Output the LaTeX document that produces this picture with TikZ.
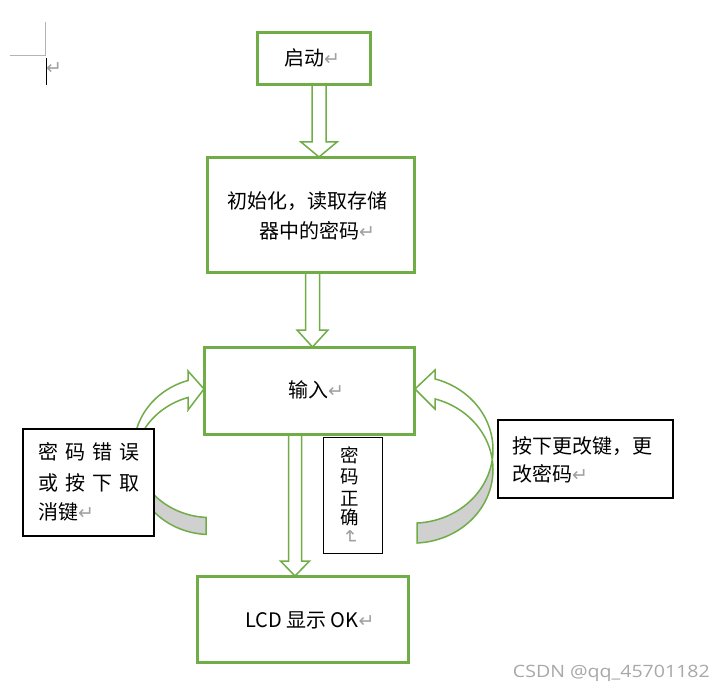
\documentclass[tikz,border=0pt]{standalone}
\usepackage{fontspec}
\usepackage{graphicx}
\setmainfont{Noto Sans CJK SC}
\newfontfamily\dejavu{DejaVu Sans}
\newfontfamily\wmfont{Open Sans}
\usetikzlibrary{calc}
\definecolor{wgreen}{HTML}{70AD47}
\definecolor{bandgray}{HTML}{D0D0D0}
\definecolor{markgray}{HTML}{A0A0A0}
\definecolor{wmgray}{HTML}{A8A8A8}
\definecolor{cornergray}{HTML}{B4B4B4}
\newcommand\parmk{{\color{markgray}\dejavu\fontsize{19}{19}\selectfont ↵}}
\newcommand\blockarrow[5]{%
  \draw[blockarr] ($(#1)+(-#3,0)$) -- ($(#2)+(-#3,-#5)$) -- ($(#2)+(-#4,-#5)$) -- (#2)
    -- ($(#2)+(#4,-#5)$) -- ($(#2)+(#3,-#5)$) -- ($(#1)+(#3,0)$) -- cycle;}
\begin{document}
\begin{tikzpicture}[x=1pt,y=-1pt,
  flowbox/.style={draw=wgreen, line width=2pt, inner sep=0pt},
  blockarr/.style={draw=wgreen, line width=1.5pt, fill=white, line join=miter},
  curvefront/.style={draw=wgreen, line width=1.5pt, fill=white, line join=miter},
  curveback/.style={draw=wgreen, line width=1.5pt, fill=bandgray, line join=miter},
  notebox/.style={draw=black, fill=white, inner sep=0pt},
  txt/.style={inner sep=0pt, anchor=base west, font=\fontsize{20}{24}\selectfont},
  vtxt/.style={inner sep=0pt, anchor=base, font=\fontsize{18.5}{20}\selectfont},
  ]
\useasboundingbox (0,0) rectangle (723,690);
\fill[white] (0,0) rectangle (723,690);

% corner marks
\draw[cornergray, line width=0.8pt] (10,55) -- (45.5,55) -- (45.5,22);
\draw[black, line width=1pt] (46.5,58) -- (46.5,85);
\node[inner sep=0pt] (cornermark) at (54,69) {\parmk};

% flow boxes (positions)
\node[flowbox, minimum width=112, minimum height=51] (start) at (314,58.5) {};
\node[flowbox, minimum width=206, minimum height=114] (init) at (311,215) {};
\node[flowbox, minimum width=209, minimum height=86] (input) at (309.5,391) {};
\node[flowbox, minimum width=210, minimum height=85] (lcd) at (303,619.5) {};

% left curved arrow
\draw[curvefront]
  plot[domain=-106.8:-187, samples=50, variable=\t] ({210+76*cos(\t)},{447.5+70*sin(\t)})
  -- plot[domain=-173:-106.8, samples=50, variable=\t] ({210+76*cos(\t)},{464.5+70*sin(\t)})
  -- (188,410) -- (input.west |- 0,389) -- (188,371) -- cycle;
\draw[curveback]
  plot[domain=-187:-267, samples=50, variable=\t] ({210+76*cos(\t)},{447.5+70*sin(\t)})
  -- plot[domain=-267:-173, samples=50, variable=\t] ({210+76*cos(\t)},{464.5+70*sin(\t)})
  -- cycle;

% right curved arrow
\draw[curvefront]
  plot[domain=-74:7.8, samples=50, variable=\t] ({413+80*cos(\t)},{449.6+73.5*sin(\t)})
  -- plot[domain=-7.8:-74, samples=50, variable=\t] ({413+80*cos(\t)},{469.6+73.5*sin(\t)})
  -- (435,409) -- (input.east |- 0,389) -- (435,370) -- cycle;
\draw[curveback]
  plot[domain=7.8:87.1, samples=50, variable=\t] ({413+80*cos(\t)},{449.6+73.5*sin(\t)})
  -- plot[domain=87.1:-7.8, samples=50, variable=\t] ({413+80*cos(\t)},{469.6+73.5*sin(\t)})
  -- cycle;

% straight block arrows
\coordinate (a1s) at (319,0 |- start.south);
\coordinate (a1t) at (319,0 |- init.north);
\coordinate (a2s) at (312.5,0 |- init.south);
\coordinate (a2t) at (312.5,0 |- input.north);
\coordinate (a3s) at (295,0 |- input.south);
\coordinate (a3t) at (295,0 |- lcd.north);
\blockarrow{a1s}{a1t}{7}{18}{15}
\blockarrow{a2s}{a2t}{7}{15.5}{17}
\blockarrow{a3s}{a3t}{6.5}{14.5}{15}

% redraw flow boxes on top
\draw[wgreen, line width=2pt] (start.north west) rectangle (start.south east);
\draw[wgreen, line width=2pt] (init.north west) rectangle (init.south east);
\draw[wgreen, line width=2pt] (input.north west) rectangle (input.south east);
\draw[wgreen, line width=2pt] (lcd.north west) rectangle (lcd.south east);

% note boxes
\node[notebox, line width=2pt, minimum width=131, minimum height=107] (leftnote) at (88.5,482.5) {};
\node[notebox, line width=0.9pt, minimum width=59, minimum height=116] (midnote) at (352.5,495) {};
\node[notebox, line width=1.3pt, minimum width=175, minimum height=78] (rightnote) at (585.5,459) {};

% texts
\node[txt] (tstart) at (284,66) {启动\parmk};
\node[txt] (tinit1) at (227,208.5) {初始化，读取存储};
\node[txt] (tinit2) at (259,238.5) {器中的密码\parmk};
\node[txt] (tinput) at (288,397.5) {输入\parmk};
\node[txt] (tlcd) at (245,627.5) {LCD 显示 OK\parmk};
\node[txt] (tl1) at (38,459.5) {密\hspace{7pt}码\hspace{7pt}错\hspace{7pt}误};
\node[txt] (tl2) at (38,490.5) {或\hspace{7pt}按\hspace{7pt}下\hspace{7pt}取};
\node[txt] (tl3) at (38,519.5) {消键\parmk};
\node[txt] (tr1) at (512,453.5) {按下更改键，更};
\node[txt] (tr2) at (512,481) {改密码\parmk};
\node[vtxt] (v1) at (350,462.3) {密};
\node[vtxt] (v2) at (350,483.8) {码};
\node[vtxt] (v3) at (350,505.3) {正};
\node[vtxt] (v4) at (350,524.8) {确};
\node[inner sep=0pt, rotate=-90] (v5) at (350,537) {\parmk};

% watermark
\node[anchor=base east, inner sep=0pt, text=wmgray, font=\wmfont\fontsize{17}{17}\selectfont] (wm) at (710,677) {\scalebox{1.15}[1]{CSDN @qq\_45701182}};
\end{tikzpicture}
\end{document}
